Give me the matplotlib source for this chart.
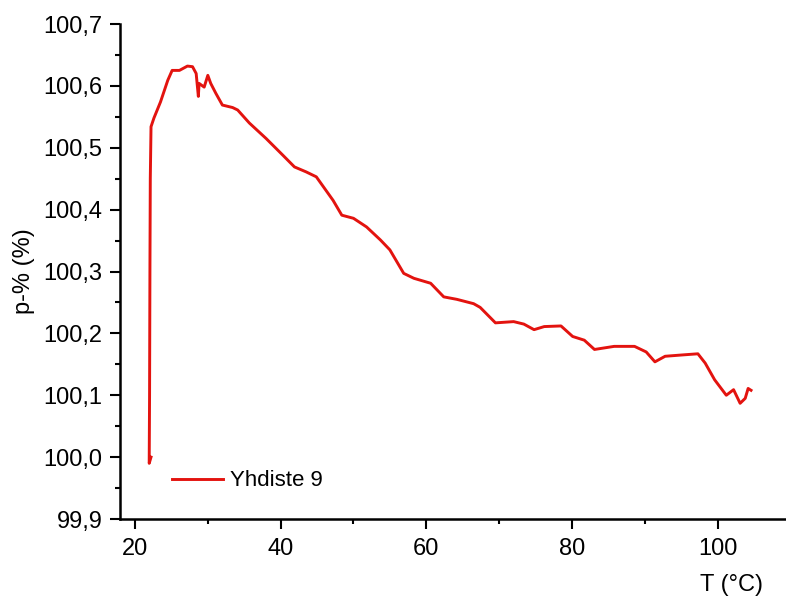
import matplotlib
matplotlib.use("Agg")
import matplotlib.pyplot as plt
from matplotlib.ticker import MultipleLocator, FuncFormatter

# temperature (°C) and p-% values
temp = [22.2, 21.95, 22.0, 22.05, 22.1, 22.2, 22.6, 23.5, 24.5, 25.1, 26.1,
        27.2, 27.9, 28.4, 28.7, 28.8, 29.5, 30.0, 30.4, 31.1, 32.0, 33.4,
        34.1, 35.7, 38.0, 40.3, 41.9, 43.5, 44.9, 47.2, 48.4, 50.0, 51.8,
        53.7, 55.0, 56.9, 58.3, 60.6, 62.4, 64.2, 66.5, 67.4, 69.5, 72.0,
        73.4, 74.8, 76.2, 78.5, 80.1, 81.7, 83.1, 85.8, 88.6, 90.2, 91.4,
        92.8, 95.0, 97.3, 98.3, 99.6, 101.2, 102.2, 103.1, 103.8, 104.2, 104.6]
p_pct = [100.0, 99.99, 100.1, 100.3, 100.45, 100.534, 100.548, 100.574,
         100.609, 100.625, 100.625, 100.632, 100.631, 100.620, 100.583,
         100.604, 100.598, 100.617, 100.604, 100.588, 100.569, 100.565,
         100.561, 100.540, 100.515, 100.488, 100.469, 100.461, 100.453,
         100.415, 100.391, 100.386, 100.372, 100.351, 100.335, 100.297,
         100.289, 100.281, 100.259, 100.255, 100.248, 100.242, 100.217,
         100.219, 100.215, 100.206, 100.211, 100.212, 100.195, 100.189,
         100.174, 100.179, 100.179, 100.170, 100.154, 100.163, 100.165,
         100.167, 100.152, 100.125, 100.100, 100.109, 100.087, 100.095,
         100.111, 100.108]
series_name = "Yhdiste 9"

plt.rcParams['font.family'] = ['Liberation Sans', 'DejaVu Sans']
plt.rcParams['font.size'] = 17

fig = plt.figure(figsize=(7.86, 5.99), dpi=100)
ax = fig.add_axes([120 / 786, 80 / 599, 1 - 120 / 786, 495 / 599])

ax.plot(temp, p_pct, color='#e3130f', lw=2.1, label=series_name)

ax.set_xlim(17.94, 109.4)
ax.set_ylim(99.9, 100.7)
ax.xaxis.set_major_locator(MultipleLocator(20))
ax.xaxis.set_minor_locator(MultipleLocator(10))
ax.yaxis.set_major_locator(MultipleLocator(0.1))
ax.yaxis.set_minor_locator(MultipleLocator(0.05))
ax.yaxis.set_major_formatter(FuncFormatter(lambda v, pos: f"{v:.1f}".replace('.', ',')))

for s in ['top', 'right']:
    ax.spines[s].set_visible(False)
for s in ['left', 'bottom']:
    ax.spines[s].set_linewidth(1.8)
ax.tick_params(which='major', direction='out', length=7, width=1.5, labelsize=17)
ax.tick_params(axis='y', which='major', pad=5.5)
ax.tick_params(axis='x', which='major', pad=7)
ax.tick_params(which='minor', direction='out', length=3.5, width=1.5)

ax.set_ylabel("p-% (%)", fontsize=17, labelpad=6)
fig.text(731 / 786, 1 - 585 / 599, "T (°C)", fontsize=17, ha='center', va='center')

ax.legend(loc='center left', bbox_to_anchor=(0.0786, 0.077), frameon=False,
          handlelength=2.3, borderpad=0, borderaxespad=0, handletextpad=0.3,
          fontsize=16)

fig.savefig("out.png", dpi=100)
